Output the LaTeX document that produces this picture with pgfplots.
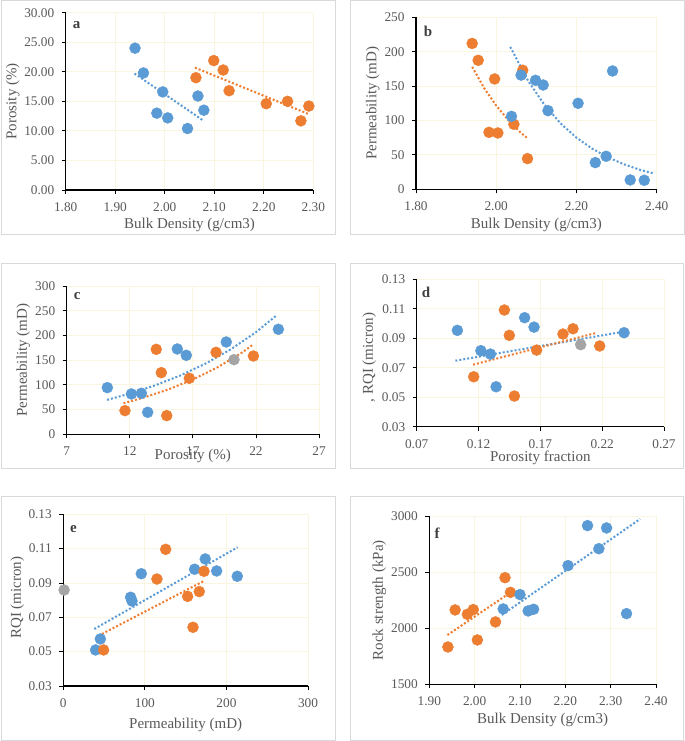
\documentclass[border=0pt]{standalone}
\usepackage{fontspec}
\setmainfont{Liberation Serif}
\usepackage{pgfplots}
\pgfplotsset{compat=1.18}
\definecolor{cblue}{HTML}{5B9BD5}
\definecolor{corange}{HTML}{ED7D31}
\definecolor{cgray}{HTML}{A5A5A5}
\definecolor{tickgray}{HTML}{595959}
\definecolor{lettergray}{HTML}{404040}
\definecolor{gridc}{RGB}{250,245,222}
\definecolor{boxc}{HTML}{D9D9D9}
\tikzset{letter/.style={font=\bfseries\fontsize{15bp}{17bp}\selectfont, text=lettergray}}
\pgfplotsset{
 panel/.style={
  scale only axis, axis lines=left, axis line style={-, black, line width=1.1bp},
  grid=major, grid style={gridc, line width=0.8bp},
  tick align=outside, major tick length=4bp, tick style={black, line width=0.8bp},
  ticklabel style={font=\fontsize{13.3bp}{15bp}\selectfont, text=tickgray},
  xticklabel style={yshift=-5bp},
  yticklabel style={xshift=-4bp},
  /pgf/number format/assume math mode=true,
  label style={font=\fontsize{15bp}{17bp}\selectfont, text=tickgray},
  clip=false,
 },
 pts/.style={only marks, mark=*, mark size=5.5bp, mark options={draw=#1, fill=#1}},
 trend/.style={no marks, draw=#1, line width=2bp, dash pattern=on 2bp off 2bp},
}
\begin{document}
\begin{tikzpicture}
\useasboundingbox (0,0) rectangle (685bp,741bp);
\fill[white] (0,0) rectangle (685bp,741bp);
\draw[boxc, line width=1bp] (1bp,506.5bp) rectangle (335bp,740.5bp);
\draw[boxc, line width=1bp] (350.5bp,506.5bp) rectangle (684bp,740.5bp);
\draw[boxc, line width=1bp] (1bp,272bp) rectangle (335bp,477bp);
\draw[boxc, line width=1bp] (350.5bp,272bp) rectangle (683.5bp,477bp);
\draw[boxc, line width=1bp] (1bp,1bp) rectangle (335bp,244bp);
\draw[boxc, line width=1bp] (350.5bp,1bp) rectangle (683.5bp,244bp);

% ---------- a ----------
\begin{axis}[panel, at={(65.7bp,551bp)}, anchor=south west, width=247.6bp, height=177.3bp,
 xmin=1.8, xmax=2.3, ymin=0, ymax=30,
 xtick={1.8,1.9,2.0,2.1,2.2,2.3}, xticklabels={1.80,1.90,2.00,2.10,2.20,2.30},
 ytick={0,5,10,15,20,25,30}, yticklabels={0.00,5.00,10.00,15.00,20.00,25.00,30.00},
 xlabel={Bulk Density (g/cm3)}, ylabel={Porosity (\%)},
 xlabel style={at={(axis description cs:0.5,-0.216)}, anchor=base},
 ylabel style={at={(axis description cs:-0.214,0.5)}, anchor=center}]
\addplot[pts=cblue] coordinates {(1.940,24.0) (1.957,19.8) (1.996,16.6) (1.984,13.0) (2.006,12.2) (2.046,10.4) (2.067,15.9) (2.079,13.5)};
\addplot[pts=corange] coordinates {(2.063,19.0) (2.099,21.9) (2.118,20.3) (2.130,16.8) (2.205,14.6) (2.248,15.0) (2.275,11.7) (2.291,14.2)};
\addplot[trend=cblue] coordinates {(1.939,19.7) (2.077,11.8)};
\addplot[trend=corange] coordinates {(2.061,20.7) (2.292,12.8)};
\node[letter] at (rel axis cs:0.044,0.93) {a};
\end{axis}

% ---------- b ----------
\begin{axis}[panel, at={(416bp,551.7bp)}, anchor=south west, width=240.7bp, height=172bp,
 xmin=1.8, xmax=2.4, ymin=0, ymax=250,
 xtick={1.8,2.0,2.2,2.4}, xticklabels={1.80,2.00,2.20,2.40},
 ytick={0,50,100,150,200,250}, yticklabels={0,50,100,150,200,250},
 xlabel={Bulk Density (g/cm3)}, ylabel={Permeability (mD)},
 xlabel style={at={(axis description cs:0.5,-0.2267)}, anchor=base},
 ylabel style={at={(axis description cs:-0.18,0.5)}, anchor=center}]
\addplot[pts=corange] coordinates {(1.940,212) (1.955,187.5) (1.996,160.4) (1.982,82.8) (2.004,81.9) (2.044,94.5) (2.066,173) (2.078,44.6)};
\addplot[pts=cblue] coordinates {(2.038,106) (2.062,166) (2.098,158.4) (2.117,151.6) (2.129,114.3) (2.204,125) (2.247,38.8) (2.274,48) (2.290,172) (2.334,13.6) (2.369,13.1)};
\addplot[trend=cblue] coordinates {(2.035,207) (2.08,157) (2.12,123) (2.16,96) (2.20,75) (2.24,58.8) (2.28,46) (2.32,36) (2.36,28) (2.39,23.4)};
\addplot[trend=corange] coordinates {(1.94,178) (1.97,147) (2.00,121.6) (2.03,100.6) (2.06,83) (2.078,74)};
\node[letter] at (rel axis cs:0.05,0.916) {b};
\end{axis}

% ---------- c ----------
\begin{axis}[panel, at={(66.7bp,306.7bp)}, anchor=south west, width=252.3bp, height=148.3bp,
 xmin=7, xmax=27, ymin=0, ymax=300,
 xtick={7,12,17,22,27}, xticklabels={7,12,17,22,27},
 ytick={0,50,100,150,200,250,300}, yticklabels={0,50,100,150,200,250,300},
 xlabel={Porosity (\%)}, ylabel={Permeability (mD)},
 xlabel style={at={(axis description cs:0.5,-0.173)}, anchor=base},
 ylabel style={at={(axis description cs:-0.172,0.5)}, anchor=center}]
\addplot[pts=cblue] coordinates {(10.22,94.4) (12.13,81.6) (12.92,82.9) (13.42,44.5) (15.77,172.6) (16.48,159.8) (19.65,186.7) (23.78,212.4)};
\addplot[pts=corange] coordinates {(11.62,47.9) (14.10,171.9) (14.50,124.7) (14.93,37.8) (16.72,113.3) (18.84,165.8) (21.80,158.4)};
\addplot[pts=cgray] coordinates {(20.26,151)};
\addplot[trend=cblue] coordinates {(10.2,69.6) (12,82.3) (14,98.9) (16,118.9) (18,142.9) (20,171.8) (22,206.5) (23.65,240.8)};
\addplot[trend=corange] coordinates {(11.5,62.8) (13,73.5) (15,90.2) (17,110.8) (19,136) (21,167) (21.72,180.6)};
\node[letter] at (rel axis cs:0.042,0.933) {c};
\end{axis}

% ---------- d ----------
\begin{axis}[panel, at={(416.7bp,314.3bp)}, anchor=south west, width=247.3bp, height=147.3bp,
 xmin=0.07, xmax=0.27, ymin=0.03, ymax=0.13,
 xtick={0.07,0.12,0.17,0.22,0.27}, xticklabels={0.07,0.12,0.17,0.22,0.27},
 ytick={0.03,0.05,0.07,0.09,0.11,0.13}, yticklabels={0.03,0.05,0.07,0.09,0.11,0.13},
 xlabel={Porosity fraction}, ylabel={, RQI (micron)},
 xlabel style={at={(axis description cs:0.5,-0.233)}, anchor=base},
 ylabel style={at={(axis description cs:-0.192,0.47)}, anchor=center}]
\addplot[pts=cblue] coordinates {(0.1029,0.0954) (0.1219,0.0816) (0.1296,0.0793) (0.1342,0.0571) (0.1573,0.1040) (0.1649,0.0976) (0.2377,0.0938)};
\addplot[pts=corange] coordinates {(0.1161,0.0639) (0.1409,0.1092) (0.1449,0.0920) (0.1490,0.0508) (0.1670,0.0820) (0.1883,0.0929) (0.1964,0.0965) (0.2180,0.0848)};
\addplot[pts=cgray] coordinates {(0.2026,0.0857)};
\addplot[trend=cblue] coordinates {(0.1013,0.0748) (0.2387,0.0947)};
\addplot[trend=corange] coordinates {(0.1156,0.0721) (0.2158,0.0938)};
\node[letter] at (rel axis cs:0.038,0.91) {d};
\end{axis}

% ---------- e ----------
\begin{axis}[panel, at={(63.3bp,55bp)}, anchor=south west, width=244.7bp, height=171.7bp,
 xmin=0, xmax=300, ymin=0.03, ymax=0.13,
 xtick={0,100,200,300}, xticklabels={0,100,200,300},
 ytick={0.03,0.05,0.07,0.09,0.11,0.13}, yticklabels={0.03,0.05,0.07,0.09,0.11,0.13},
 xlabel={Permeability (mD)}, ylabel={RQI (micron)},
 xlabel style={at={(axis description cs:0.5,-0.25)}, anchor=base},
 ylabel style={at={(axis description cs:-0.188,0.515)}, anchor=center}]
\addplot[pts=cgray] coordinates {(1,0.0859)};
\addplot[pts=cblue] coordinates {(39.6,0.0510) (45.4,0.0574) (82.5,0.0817) (84.2,0.0795) (95.6,0.0954) (161,0.0980) (174,0.1040) (188,0.0970) (213.3,0.0939)};
\addplot[pts=corange] coordinates {(49.4,0.0510) (114.8,0.0923) (125.5,0.1096) (152.4,0.0822) (159,0.0642) (166.7,0.0850) (172.5,0.0968)};
\addplot[trend=cblue] coordinates {(38,0.0632) (213.7,0.1108)};
\addplot[trend=corange] coordinates {(47.4,0.0603) (172.5,0.0912)};
\node[letter] at (rel axis cs:0.041,0.914) {e};
\end{axis}

% ---------- f ----------
\begin{axis}[panel, at={(429.3bp,56.7bp)}, anchor=south west, width=226.7bp, height=168bp,
 xmin=1.9, xmax=2.4, ymin=1500, ymax=3000,
 xtick={1.9,2.0,2.1,2.2,2.3,2.4}, xticklabels={1.90,2.00,2.10,2.20,2.30,2.40},
 ytick={1500,2000,2500,3000}, yticklabels={1500,2000,2500,3000},
 xlabel={Bulk Density (g/cm3)}, ylabel={Rock strength (kPa)},
 xlabel style={at={(axis description cs:0.5,-0.236)}, anchor=base},
 ylabel style={at={(axis description cs:-0.2206,0.5)}, anchor=center}]
\addplot[pts=corange] coordinates {(1.941,1833) (1.957,2164) (1.984,2125) (1.997,2167) (2.006,1896) (2.046,2057) (2.067,2452) (2.079,2321)};
\addplot[pts=cblue] coordinates {(2.063,2173) (2.100,2301) (2.118,2155) (2.130,2170) (2.206,2560) (2.249,2917) (2.274,2711) (2.291,2896) (2.335,2131)};
\addplot[trend=corange] coordinates {(1.940,1940) (2.071,2298)};
\addplot[trend=cblue] coordinates {(2.060,2119) (2.365,2976)};
\node[letter] at (rel axis cs:0.034,0.90) {f};
\end{axis}
\end{tikzpicture}
\end{document}
